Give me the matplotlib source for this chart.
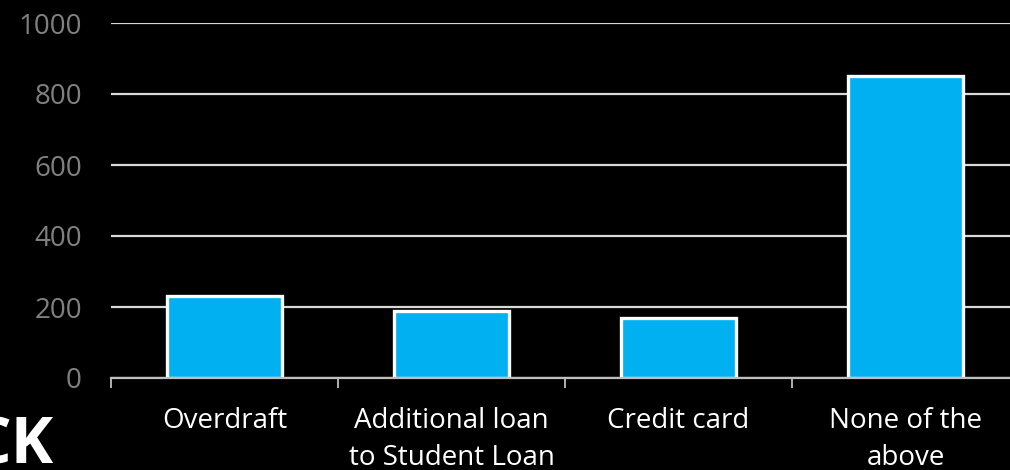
import numpy as np
import matplotlib
matplotlib.use("Agg")
import matplotlib.pyplot as plt

# Which credit sources were used
categories = ["Overdraft", "Additional loan\nto Student Loan", "Credit card", "None of the\nabove"]
counts = [230, 190, 170, 850]
y_ticks = [0, 200, 400, 600, 800, 1000]

plt.rcParams['font.family'] = ['Open Sans', 'DejaVu Sans']

fig = plt.figure(figsize=(10.1, 4.7), dpi=100, facecolor='black')
ax = fig.add_axes([111 / 1010, 92 / 470, 908 / 1010, 355 / 470], facecolor='black')

x = np.arange(len(categories))
ax.bar(x, counts, width=0.507, color='#00B0F0', edgecolor='white', linewidth=2.4, zorder=3)

ax.set_xlim(-0.5, len(categories) - 0.5)
ax.set_ylim(0, 1000)
ax.set_yticks(y_ticks)
ax.set_yticklabels([str(v) for v in y_ticks])
ax.yaxis.grid(True, color='#D9D9D9', linewidth=1.6, zorder=0)
ax.tick_params(axis='y', length=0, pad=21, labelsize=20, labelcolor='#808080')

ax.set_xticks(x)
ax.set_xticklabels(categories, linespacing=1.4)
ax.set_xticks(np.arange(-0.5, len(categories)), minor=True)
ax.tick_params(axis='x', which='major', length=0, pad=21, labelsize=20, labelcolor='white')
ax.tick_params(axis='x', which='minor', length=7, width=1.3, color='#BFBFBF')

for side in ['top', 'right', 'left']:
    ax.spines[side].set_visible(False)
ax.spines['bottom'].set_color('#BFBFBF')
ax.spines['bottom'].set_linewidth(1.6)
ax.spines['bottom'].set_zorder(4)

fig.text(54 / 1010, 6 / 470, "CK", color='white', fontsize=46, fontweight='bold',
         ha='right', va='baseline')

fig.savefig("out.png", dpi=100, facecolor='black')
